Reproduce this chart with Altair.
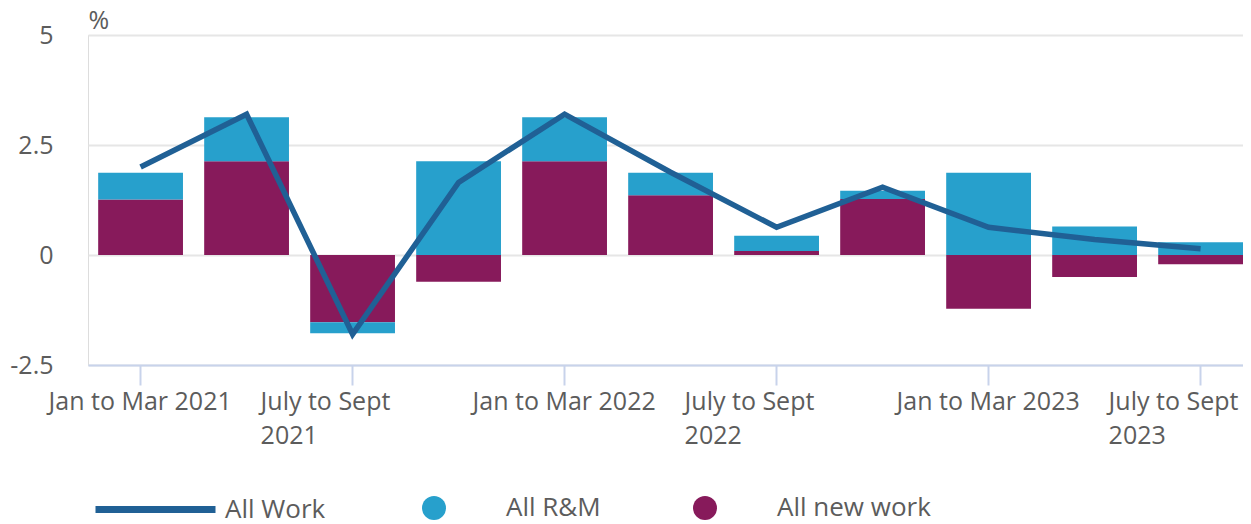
import altair as alt
import pandas as pd

quarters = [
    "Jan to Mar 2021", "Apr to June 2021", "July to Sept 2021", "Oct to Dec 2021",
    "Jan to Mar 2022", "Apr to June 2022", "July to Sept 2022", "Oct to Dec 2022",
    "Jan to Mar 2023", "Apr to June 2023", "July to Sept 2023",
]
new_work = [1.26, 2.13, -1.53, -0.61, 2.13, 1.36, 0.09, 1.27, -1.22, -0.50, -0.21]
rm_work = [0.61, 1.00, -0.25, 2.13, 1.00, 0.51, 0.35, 0.19, 1.87, 0.65, 0.29]
all_work = [2.00, 3.20, -1.80, 1.65, 3.20, 1.88, 0.63, 1.54, 0.63, 0.35, 0.14]

bar_series = ["All R&M", "All new work"]
bar_colors = ["#27a0cc", "#871a5b"]
line_series = "All Work"
line_color = "#206095"

rows = []
for q, nw, rm in zip(quarters, new_work, rm_work):
    rows.append({"quarter": q, "series": "All new work", "value": nw, "ord": 0})
    rows.append({"quarter": q, "series": "All R&M", "value": rm, "ord": 1})
bars_df = pd.DataFrame(rows)
line_df = pd.DataFrame({"quarter": quarters, "value": all_work, "series": line_series})

FONT = "Open Sans"
TXT = "#5c5c5c"

x_enc = alt.X(
    "quarter:N",
    sort=quarters,
    scale=alt.Scale(paddingInner=0.2, paddingOuter=0.048, align=1),
    axis=alt.Axis(
        values=quarters[0::2],
        title=None,
        labelAngle=0,
        labelAlign="left",
        labelOffset=-92,
        labelBaseline="top",
        labelPadding=4,
        labelLineHeight=34,
        labelOverlap=False,
        labelLimit=400,
        labelFontSize=25,
        labelColor=TXT,
        labelFont=FONT,
        labelExpr="indexof(datum.label, 'July') == 0 ? ['July to Sept', slice(datum.label, -4)] : datum.label",
        bandPosition=0.5,
        tickExtra=False,
        tickSize=20,
        tickWidth=2,
        tickColor="#c8d3eb",
        domainColor="#c8d3eb",
        domainWidth=2,
        grid=False,
    ),
)

y_axis = alt.Axis(
    values=[-2.5, 0, 2.5, 5],
    labelExpr="'' + datum.value",
    title="%",
    titleAngle=0,
    titleAlign="left",
    titleBaseline="alphabetic",
    titleX=0,
    titleY=-7,
    titleFontSize=25,
    titleFontWeight="normal",
    titleColor=TXT,
    titleFont=FONT,
    labelFontSize=25,
    labelColor=TXT,
    labelFont=FONT,
    labelPadding=35,
    ticks=False,
    tickSize=0,
    domain=False,
    grid=True,
    gridColor="#e6e6e6",
    gridWidth=2,
)
y_scale = alt.Scale(domain=[-2.5, 5], nice=False)

bars = alt.Chart(bars_df).mark_bar().encode(
    x=x_enc,
    y=alt.Y("value:Q", stack="zero", scale=y_scale, axis=y_axis),
    color=alt.Color(
        "series:N",
        scale=alt.Scale(domain=bar_series, range=bar_colors),
        legend=alt.Legend(
            title=None,
            orient="none",
            direction="horizontal",
            legendX=333,
            legendY=460,
            symbolType="circle",
            symbolSize=573,
            symbolStrokeWidth=0,
            labelOffset=59,
            columnPadding=91,
            labelFontSize=26,
            labelColor=TXT,
            labelFont=FONT,
        ),
    ),
    order=alt.Order("ord:Q"),
)

line = alt.Chart(line_df).mark_line(strokeWidth=5.5).encode(
    x=x_enc,
    y=alt.Y("value:Q", scale=y_scale, axis=y_axis),
    stroke=alt.Stroke(
        "series:N",
        scale=alt.Scale(domain=[line_series], range=[line_color]),
        legend=alt.Legend(
            title=None,
            orient="none",
            direction="horizontal",
            legendX=4,
            legendY=411,
            symbolType="stroke",
            symbolSize=14400,
            symbolStrokeWidth=7,
            labelOffset=6,
            labelFontSize=26,
            labelColor=TXT,
            labelFont=FONT,
        ),
    ),
)

chart = (
    alt.layer(bars, line)
    .resolve_scale(color="independent")
    .properties(
        width=1155,
        height=330,
        autosize=alt.AutoSizeParams(type="none"),
        padding={"left": 80, "top": 27, "right": 0, "bottom": 159},
    )
    .configure_view(strokeWidth=0)
    .configure_axisY(domain=False)
    .configure_axisX(grid=False)
    .configure_axisBand(grid=False)
    .configure(font=FONT)
)

chart.save("out.html", embed_options={"renderer": "svg", "actions": False})
